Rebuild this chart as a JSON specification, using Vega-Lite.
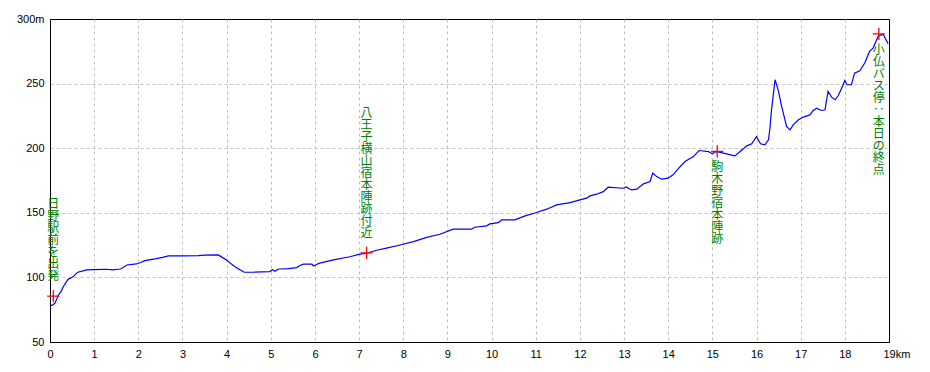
{
  "$schema": "https://vega.github.io/schema/vega-lite/v6.json",
  "width": 839,
  "height": 323,
  "autosize": "none",
  "padding": {"left": 50, "top": 19, "right": 41, "bottom": 30},
  "background": "white",
  "config": {
    "view": {"stroke": "black", "strokeWidth": 1},
    "axis": {
      "labelFont": "Liberation Sans",
      "labelFontSize": 11,
      "labelColor": "black",
      "ticks": false,
      "domainColor": "black",
      "gridColor": "#c0c0c0",
      "gridDash": [3, 3],
      "gridWidth": 1,
      "title": null
    }
  },
  "datasets": {
    "profile": [
      {"km": 0.0, "elev": 78}, {"km": 0.05, "elev": 78.5}, {"km": 0.11, "elev": 80}, {"km": 0.15, "elev": 83},
      {"km": 0.19, "elev": 86.4}, {"km": 0.25, "elev": 89}, {"km": 0.3, "elev": 92.8}, {"km": 0.36, "elev": 96},
      {"km": 0.41, "elev": 98.5}, {"km": 0.47, "elev": 99.5}, {"km": 0.53, "elev": 100.6}, {"km": 0.58, "elev": 102.5},
      {"km": 0.63, "elev": 104}, {"km": 0.75, "elev": 105}, {"km": 0.83, "elev": 105.8}, {"km": 1.0, "elev": 106},
      {"km": 1.28, "elev": 106.3}, {"km": 1.42, "elev": 105.8}, {"km": 1.6, "elev": 106.5}, {"km": 1.74, "elev": 109.6},
      {"km": 1.96, "elev": 110.4}, {"km": 2.05, "elev": 111.5}, {"km": 2.15, "elev": 113}, {"km": 2.38, "elev": 114.3},
      {"km": 2.55, "elev": 115.5}, {"km": 2.68, "elev": 116.6}, {"km": 3.0, "elev": 116.7}, {"km": 3.36, "elev": 116.8},
      {"km": 3.5, "elev": 117.2}, {"km": 3.81, "elev": 117.4}, {"km": 3.9, "elev": 115.5}, {"km": 4.0, "elev": 113.5},
      {"km": 4.1, "elev": 110.5}, {"km": 4.19, "elev": 108.3}, {"km": 4.3, "elev": 106}, {"km": 4.4, "elev": 104},
      {"km": 4.6, "elev": 104}, {"km": 4.98, "elev": 104.5}, {"km": 5.04, "elev": 106}, {"km": 5.1, "elev": 104.8},
      {"km": 5.16, "elev": 106.3}, {"km": 5.21, "elev": 106.5}, {"km": 5.4, "elev": 106.8}, {"km": 5.59, "elev": 107.6},
      {"km": 5.65, "elev": 109}, {"km": 5.74, "elev": 110.2}, {"km": 5.93, "elev": 110.2}, {"km": 5.97, "elev": 108.8},
      {"km": 6.03, "elev": 110}, {"km": 6.11, "elev": 111}, {"km": 6.42, "elev": 113.5}, {"km": 6.79, "elev": 116},
      {"km": 7.02, "elev": 118}, {"km": 7.17, "elev": 118.7}, {"km": 7.4, "elev": 121}, {"km": 7.62, "elev": 122.6},
      {"km": 7.93, "elev": 125.1}, {"km": 8.23, "elev": 127.7}, {"km": 8.53, "elev": 131}, {"km": 8.83, "elev": 133.4},
      {"km": 9.13, "elev": 137.3}, {"km": 9.55, "elev": 137.3}, {"km": 9.62, "elev": 138.8}, {"km": 9.89, "elev": 139.9},
      {"km": 9.96, "elev": 141.4}, {"km": 10.15, "elev": 142.4}, {"km": 10.23, "elev": 144.5}, {"km": 10.53, "elev": 144.5},
      {"km": 10.76, "elev": 147.6}, {"km": 11.02, "elev": 150.2}, {"km": 11.25, "elev": 152.8}, {"km": 11.47, "elev": 156.1},
      {"km": 11.78, "elev": 157.9}, {"km": 12.0, "elev": 160}, {"km": 12.15, "elev": 161.3}, {"km": 12.23, "elev": 163.1},
      {"km": 12.38, "elev": 164.4}, {"km": 12.53, "elev": 166.4}, {"km": 12.64, "elev": 169.8}, {"km": 12.98, "elev": 169},
      {"km": 13.05, "elev": 170}, {"km": 13.17, "elev": 167.7}, {"km": 13.29, "elev": 168.3}, {"km": 13.44, "elev": 172.4},
      {"km": 13.59, "elev": 174.2}, {"km": 13.65, "elev": 180.7}, {"km": 13.74, "elev": 178}, {"km": 13.85, "elev": 176},
      {"km": 14.0, "elev": 176.8}, {"km": 14.11, "elev": 179.4}, {"km": 14.27, "elev": 185.8}, {"km": 14.38, "elev": 189.7},
      {"km": 14.57, "elev": 193.5}, {"km": 14.7, "elev": 198.2}, {"km": 14.91, "elev": 197.4}, {"km": 15.0, "elev": 195.6},
      {"km": 15.05, "elev": 197}, {"km": 15.11, "elev": 197.4}, {"km": 15.32, "elev": 195.6}, {"km": 15.51, "elev": 194},
      {"km": 15.63, "elev": 197.4}, {"km": 15.78, "elev": 201.8}, {"km": 15.89, "elev": 203.4}, {"km": 16.0, "elev": 209},
      {"km": 16.09, "elev": 203.4}, {"km": 16.19, "elev": 202.6}, {"km": 16.27, "elev": 206.5}, {"km": 16.3, "elev": 214.2},
      {"km": 16.34, "elev": 229.7}, {"km": 16.42, "elev": 253}, {"km": 16.49, "elev": 245.2}, {"km": 16.57, "elev": 232.3},
      {"km": 16.68, "elev": 216.8}, {"km": 16.76, "elev": 214.2}, {"km": 16.83, "elev": 218.1}, {"km": 16.95, "elev": 222},
      {"km": 17.06, "elev": 224.1}, {"km": 17.21, "elev": 225.8}, {"km": 17.28, "elev": 229}, {"km": 17.36, "elev": 231},
      {"km": 17.47, "elev": 229.2}, {"km": 17.55, "elev": 229.7}, {"km": 17.62, "elev": 243.9}, {"km": 17.7, "elev": 239.5},
      {"km": 17.78, "elev": 237.5}, {"km": 17.85, "elev": 240.6}, {"km": 17.93, "elev": 246.5}, {"km": 18.0, "elev": 252.4},
      {"km": 18.05, "elev": 249.1}, {"km": 18.15, "elev": 249.1}, {"km": 18.22, "elev": 258.1}, {"km": 18.34, "elev": 259.9},
      {"km": 18.45, "elev": 265.9}, {"km": 18.56, "elev": 274.9}, {"km": 18.64, "elev": 277.5}, {"km": 18.76, "elev": 287},
      {"km": 18.87, "elev": 288}, {"km": 18.98, "elev": 280.8}
    ],
    "waypoints": [
      {"km": 0.075, "elev": 85.5, "name": "日野駅前を出発", "side": "above"},
      {"km": 7.17, "elev": 119, "name": "八王子横山宿本陣跡付近", "side": "above"},
      {"km": 15.11, "elev": 197.5, "name": "駒木野宿本陣跡", "side": "below"},
      {"km": 18.77, "elev": 288.5, "name": "小仏バス停：本日の終点", "side": "below"}
    ]
  },
  "encoding": {
    "x": {
      "field": "km", "type": "quantitative",
      "scale": {"domain": [0, 19], "nice": false, "zero": false},
      "axis": {
        "values": [0,1,2,3,4,5,6,7,8,9,10,11,12,13,14,15,16,17,18,19],
        "labelPadding": 6,
        "labelExpr": "datum.value == 19 ? '19km' : datum.label",
        "labelAlign": {"condition": {"test": "datum.value == 19", "value": "left"}, "value": "center"},
        "labelOffset": {"condition": {"test": "datum.value == 19", "value": -6}, "value": 0},
        "gridOpacity": {"condition": {"test": "datum.value == 19 || datum.value == 0", "value": 0}, "value": 1},
        "labelFlush": false,
        "labelOverlap": false
      }
    },
    "y": {
      "field": "elev", "type": "quantitative",
      "scale": {"domain": [50, 300], "nice": false, "zero": false},
      "axis": {
        "values": [50, 100, 150, 200, 250, 300],
        "labelPadding": 6,
        "labelExpr": "datum.value == 300 ? '300m' : datum.label",
        "gridOpacity": {"condition": {"test": "datum.value == 300 || datum.value == 50", "value": 0}, "value": 1},
        "labelFlush": false,
        "labelOverlap": false
      }
    }
  },
  "layer": [
    {
      "data": {"name": "profile"},
      "mark": {"type": "line", "color": "#0000ff", "strokeWidth": 1.2, "interpolate": "linear"}
    },
    {
      "data": {"name": "waypoints"},
      "mark": {"type": "point", "shape": "M-1,0L1,0M0,-1L0,1", "size": 150, "filled": false, "stroke": "#ff0000", "strokeWidth": 1.3, "opacity": 1}
    },
    {
      "data": {"name": "waypoints"},
      "transform": [
        {"filter": "datum.side == 'above'"},
        {"calculate": "split(replace(datum.name, '：', '‥'), '')", "as": "chars"},
        {"calculate": "datum.elev + (length(datum.chars) * 12 + 13) * 250 / 323", "as": "labelTop"}
      ],
      "mark": {"type": "text", "font": "Noto Sans CJK JP", "fontSize": 12, "lineHeight": 12, "color": "#008000", "align": "center", "baseline": "top", "dy": 0},
      "encoding": {
        "y": {"field": "labelTop", "type": "quantitative"},
        "text": {"field": "chars", "type": "nominal"}
      }
    },
    {
      "data": {"name": "waypoints"},
      "transform": [
        {"filter": "datum.side == 'below'"},
        {"calculate": "split(replace(datum.name, '：', '‥'), '')", "as": "chars"}
      ],
      "mark": {"type": "text", "font": "Noto Sans CJK JP", "fontSize": 12, "lineHeight": 12, "color": "#008000", "align": "center", "baseline": "top", "dy": 11},
      "encoding": {"text": {"field": "chars", "type": "nominal"}}
    }
  ]
}
